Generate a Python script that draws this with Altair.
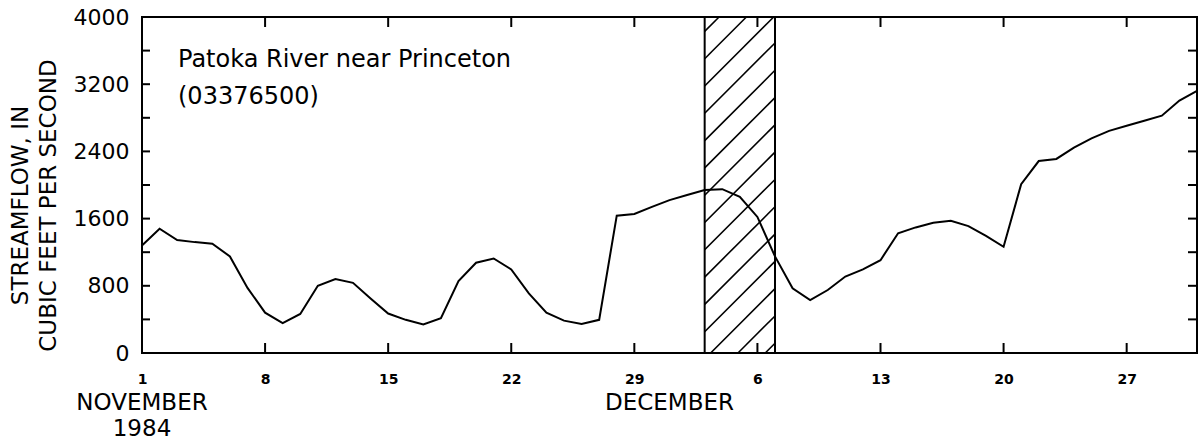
import altair as alt
import pandas as pd
import numpy as np

# ---------------- data ----------------
START = "1984-11-01"
flow = [1280, 1480, 1345, 1320, 1300, 1150, 775, 480, 355, 465,
        800, 880, 835, 650, 470, 395, 340, 415, 855, 1075,
        1125, 995, 710, 480, 385, 345, 395, 1635, 1655, 1740,
        1820, 1880, 1940, 1950, 1860, 1620, 1150, 770, 630, 750,
        910, 995, 1105, 1425, 1495, 1550, 1575, 1510, 1395, 1265,
        2010, 2285, 2310, 2445, 2555, 2645, 2705, 2765, 2825, 3005,
        3120]
dates = pd.date_range(START, periods=len(flow), freq="D")
day_index = [(d - dates[0]).days for d in dates]

shade_start = "1984-12-03"
shade_end = "1984-12-07"

tick_days = [0, 7, 14, 21, 28, 35, 42, 49, 56]
tick_labels = ["1", "8", "15", "22", "29", "6", "13", "20", "27"]
y_label_values = [0, 800, 1600, 2400, 3200, 4000]
y_tick_values = [400, 800, 1200, 1600, 2000, 2400, 2800, 3200, 3600]

month_days = [0, 30]
month_labels = ["NOVEMBER\n1984", "DECEMBER"]

station = "Patoka River near Princeton"
station_id = "(03376500)"

# ---------------- layout ----------------
W, H = 1055, 336
X_MAX = day_index[-1]
Y_MAX = 4000
FONT = "DejaVu Sans"

s0 = (pd.Timestamp(shade_start) - pd.Timestamp(START)).days
s1 = (pd.Timestamp(shade_end) - pd.Timestamp(START)).days

df = pd.DataFrame({"day": day_index, "flow": flow})

# hatch segments inside the shaded period (45 degrees in screen space)
day_px = W / X_MAX
val_px = H / Y_MAX
rect_w = (s1 - s0) * day_px
spacing = 27.3
phase = 21.3
segs = []
for k in range(-4, 16):
    c = phase + k * spacing
    px_s = max(0.0, -c)
    px_e = min(rect_w, H - c)
    if px_e <= px_s:
        continue
    segs.append({
        "x0": s0 + px_s / day_px, "y0": (px_s + c) / val_px,
        "x1": s0 + px_e / day_px, "y1": (px_e + c) / val_px,
    })
hatch_df = pd.DataFrame(segs)

xs = alt.Scale(domain=[0, X_MAX], nice=False, zero=False)
ys = alt.Scale(domain=[0, Y_MAX], nice=False)

label_expr = "[" + ",".join("'%s'" % t for t in tick_labels) + "][round(datum.value/7)]"

x_axis = alt.Axis(
    values=tick_days, labelExpr=label_expr, ticks=False, domain=False, grid=False,
    labelPadding=19, labelFont=FONT, labelFontSize=14, labelFontWeight="bold",
    labelColor="black", labelFlush=False, labelOverlap=False, title=None)
y_axis = alt.Axis(
    values=y_label_values, format="d", ticks=False, domain=False, grid=False,
    labelPadding=13, labelFont=FONT, labelFontSize=22, labelColor="black",
    labelFlush=False, labelOverlap=False,
    title=["STREAMFLOW, IN", "CUBIC FEET PER SECOND"],
    titleFont=FONT, titleFontSize=23, titleFontWeight="normal", titleColor="black",
    titleAngle=270, titleX=-122, titleY=188, titleAlign="center",
    titleBaseline="middle", titleLineHeight=28)


def X(field):
    return alt.X(field, scale=xs, axis=x_axis)


def Y(field):
    return alt.Y(field, scale=ys, axis=y_axis)


line = alt.Chart(df).mark_line(color="black", strokeWidth=2).encode(
    x=X("day:Q"), y=Y("flow:Q"))

shade_df = pd.DataFrame({"a": [s0], "b": [s1], "lo": [0], "hi": [Y_MAX]})
shade = alt.Chart(shade_df).mark_rect(fillOpacity=0, stroke="black", strokeWidth=2).encode(
    x=X("a:Q"), x2="b:Q", y=Y("lo:Q"), y2="hi:Q")

hatch = alt.Chart(hatch_df).mark_rule(color="black", strokeWidth=1.6).encode(
    x=X("x0:Q"), x2="x1:Q", y=Y("y0:Q"), y2="y1:Q")

xt_df = pd.DataFrame({"t": tick_days})
yt_df = pd.DataFrame({"v": y_tick_values})
TK = 10
tick_bottom = alt.Chart(xt_df).mark_rule(color="black", strokeWidth=2).encode(
    x=X("t:Q"), y=alt.value(H - TK), y2=alt.value(H))
tick_top = alt.Chart(xt_df).mark_rule(color="black", strokeWidth=2).encode(
    x=X("t:Q"), y=alt.value(0), y2=alt.value(TK))
tick_left = alt.Chart(yt_df).mark_rule(color="black", strokeWidth=2).encode(
    y=Y("v:Q"), x=alt.value(0), x2=alt.value(8))
tick_right = alt.Chart(yt_df).mark_rule(color="black", strokeWidth=2).encode(
    y=Y("v:Q"), x=alt.value(W - 9), x2=alt.value(W))

ann1 = alt.Chart(pd.DataFrame({"s": [station]})).mark_text(
    font=FONT, fontSize=24, align="left", baseline="alphabetic", color="black"
).encode(text="s:N", x=alt.value(36), y=alt.value(50))
ann2 = alt.Chart(pd.DataFrame({"s": [station_id]})).mark_text(
    font=FONT, fontSize=24, align="left", baseline="alphabetic", color="black"
).encode(text="s:N", x=alt.value(36), y=alt.value(87))

months = alt.Chart(pd.DataFrame({"d": month_days, "m": month_labels})).mark_text(
    font=FONT, fontSize=23, align="center", baseline="alphabetic", color="black",
    lineBreak="\n", lineHeight=26
).encode(x=X("d:Q"), y=alt.value(H + 57), text="m:N")

chart = alt.layer(
    line, shade, hatch, tick_bottom, tick_top, tick_left, tick_right, ann1, ann2, months
).properties(
    width=W, height=H,
    autosize=alt.AutoSizeParams(type="none"),
    padding={"left": 142, "top": 17, "right": 2, "bottom": 89},
).configure(
    background="white",
    view=alt.ViewConfig(stroke="black", strokeWidth=2),
)

chart.save("out.html", embed_options={"renderer": "svg", "actions": False})
